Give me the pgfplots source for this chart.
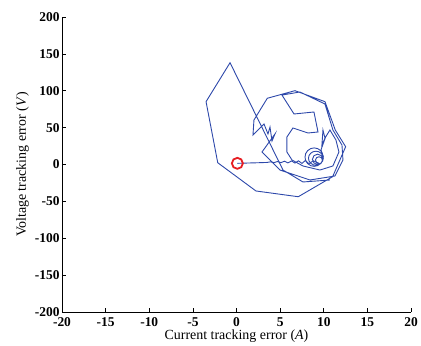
\documentclass[border=0pt]{standalone}
\usepackage{fontspec}
\setmainfont{Liberation Serif}
\usepackage{pgfplots}
\pgfplotsset{compat=1.18}
\definecolor{trajblue}{RGB}{45,72,170}
\definecolor{markred}{RGB}{230,30,35}
\begin{document}
\begin{tikzpicture}
\useasboundingbox (-62bp,-34bp) rectangle (359bp,312bp);
\begin{axis}[
  at={(0,0)}, anchor=south west,
  scale only axis, width=349bp, height=295bp,
  xmin=-20, xmax=20, ymin=-200, ymax=200,
  axis lines=left,
  axis line style={-, line width=0.7bp},
  xtick={-20,-15,...,20}, ytick={-200,-150,...,200},
  tick align=inside, major tick length=4bp,
  tick style={black, line width=0.6bp},
  /pgf/number format/assume math mode=true,
  ticklabel style={font=\fontsize{13.5}{13.5}\selectfont\bfseries},
  xticklabel style={yshift=-2bp},
  yticklabel style={xshift=1bp},
  xlabel={Current tracking error (\textit{A})},
  ylabel={Voltage tracking error (\textit{V})},
  label style={font=\fontsize{14}{14}\selectfont},
  xlabel style={yshift=4bp},
  ylabel style={yshift=-1bp},
  clip=false,
]
% outer loops of the error trajectory
\addplot[trajblue, line width=0.9bp] coordinates {
  (10.71,-21.0) (7.62,-23.7) (5.33,-7.5) (-0.74,138.0) (-3.49,85.2)
  (-2.15,2.4) (2.23,-35.9) (7.08,-43.7) (11.02,-16.5) (12.51,24.1)
  (11.32,46.8) (10.14,85.2) (6.70,100.1) (3.53,89.8) (2.00,60.3)
  (1.89,40.0) (3.15,54.9) (3.61,41.4) (3.84,50.8) (4.07,31.9)
  (4.41,41.4) (2.92,16.9) (4.98,-7.5) (8.42,-21.0) (11.28,-15.6)
  (12.20,6.1) (12.09,26.4) (11.05,46.8) (10.14,82.0) (7.27,98.3)
  (5.21,94.2) (6.59,68.5) (8.88,71.2) (9.34,44.1) (8.19,42.7)
  (6.47,49.5) (5.78,37.3) (5.78,16.9) (6.36,6.1) (7.62,-2.0)
  (9.56,-7.5) (11.05,-2.0) (11.74,16.9) (11.40,33.2) (10.71,46.8)
  (10.14,35.9) (9.91,46.8) (9.79,26.4) (10.25,38.6) (9.68,19.7)
  (9.95,10)
};
% inner spiral settling towards the lower right
\addplot[trajblue, line width=0.9bp, smooth, tension=0.7] coordinates {
  (9.95,10) (9.64,18.8) (8.9,22.5) (8.16,18.8) (7.85,10) (8.16,1.2) (8.9,-2.5) (9.64,1.2)
  (9.95,8.5) (9.7,15.2) (9.1,18) (8.5,15.2) (8.25,8.5) (8.5,1.8) (9.1,-1) (9.7,1.8)
  (9.9,7) (9.72,12) (9.3,14) (8.88,12) (8.7,7) (8.88,2) (9.3,0) (9.72,2)
  (9.85,6) (9.73,9.2) (9.45,10.5) (9.17,9.2) (9.05,6) (9.17,2.8) (9.45,1.5)
};
% decaying oscillation back to the origin
\addplot[trajblue, line width=0.9bp] coordinates {
  (9.45,1.5) (8.8,5) (8.3,1) (7.9,5.5) (7.5,1.5) (7.1,5) (6.7,2) (6.3,4.8)
  (5.9,2.2) (5.5,4.5) (5.1,2.5) (4.7,4.0) (4.3,2.6) (3.9,3.6) (3.5,2.8)
  (2.5,2.4) (1.0,1.9) (0.1,1.6)
};
% end point
\addplot[only marks, mark=o, mark size=5.5bp, markred, line width=1.8bp]
  coordinates {(0.1,1.6)};
\end{axis}
\end{tikzpicture}
\end{document}
